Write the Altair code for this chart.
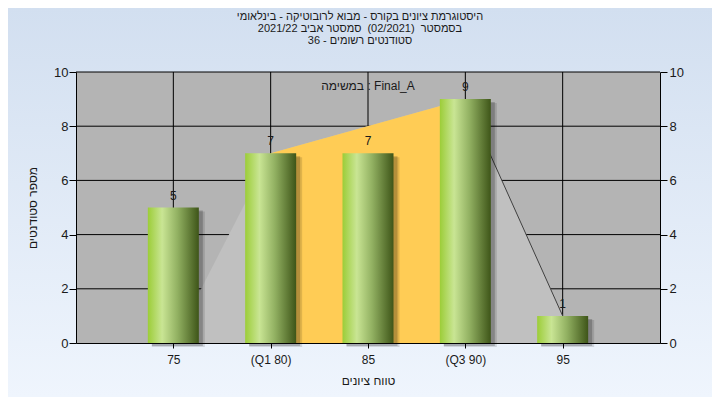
import altair as alt
import pandas as pd

# ---- data ----
grades = [75, 80, 85, 90, 95]
counts = [5, 7, 7, 9, 1]
tick_labels = ["75", "(Q1 80)", "85", "(Q3 90)", "95"]
curve_x = [75, 80, 90, 95]
curve_y = [0, 7, 9, 1]
q1_grade, q3_grade = 80, 90
y_ticks = [0, 2, 4, 6, 8, 10]
grid_y = [2, 4, 6, 8, 10]
title_lines = [
    "היסטוגרמת ציונים בקורס - מבוא לרובוטיקה - בינלאומי",
    "בסמסטר \u00a0(02/2021) \u00a0סמסטר אביב 2021/22",
    "סטודנטים רשומים - 36",
]
task_label = "במשימה : Final_A"
x_title = "טווח ציונים"
y_title = "מספר סטודנטים"

W, H = 584, 271
PADL, PADT, PADR, PADB = 68, 64, 52, 54
FONT = "Liberation Sans"
TXT = "#1a1a1a"

bars_df = pd.DataFrame({"grade": grades, "count": counts})
curve_df = pd.DataFrame({"grade": curve_x, "count": curve_y})
iqr_df = curve_df[(curve_df.grade >= q1_grade) & (curve_df.grade <= q3_grade)]
tail_df = curve_df[curve_df.grade >= q3_grade]
gridx_df = pd.DataFrame({"grade": grades})
gridy_df = pd.DataFrame({"count": grid_y})

xs = alt.Scale(domain=[70, 100], nice=False, zero=False, padding=0)
ys = alt.Scale(domain=[0, 10], nice=False, padding=0)

label_expr = ""
for v, l in zip(grades, tick_labels):
    label_expr += f"datum.value == {v} ? '{l}' : "
label_expr += "''"

x_axis = alt.Axis(values=grades, labelExpr=label_expr, grid=False, tickSize=5,
                  labelPadding=6, domainColor="black", tickColor="black",
                  labelFont=FONT, labelFontSize=12, labelColor=TXT,
                  title=x_title, titleFont=FONT, titleFontSize=12, titleFontWeight="normal",
                  titleColor=TXT, titleX=W / 2, titleY=37, titleBaseline="middle",
                  zindex=1)
y_axis_left = alt.Axis(values=y_ticks, grid=False, tickSize=7, labelPadding=1,
                       domainColor="black", tickColor="black",
                       labelFont=FONT, labelFontSize=13, labelColor=TXT,
                       title=y_title, titleFont=FONT, titleFontSize=12, titleFontWeight="normal",
                       titleColor=TXT, titleX=-44, titleY=H / 2, titleBaseline="middle",
                       titleAlign="center", zindex=1)
y_axis_right = alt.Axis(orient="right", values=y_ticks, grid=False, tickSize=7, labelPadding=2,
                        domainColor="black", tickColor="black",
                        labelFont=FONT, labelFontSize=13, labelColor=TXT, title=None, zindex=1)

bg = alt.Chart(pd.DataFrame({"a": [0]})).mark_rect(
    color=alt.LinearGradient(gradient="linear", x1=0, x2=0, y1=0, y2=1,
                             stops=[alt.GradientStop(color="#d2dff0", offset=0),
                                    alt.GradientStop(color="#eff5fd", offset=1)])
).encode(x=alt.value(-PADL), x2=alt.value(W + PADR), y=alt.value(-PADT), y2=alt.value(H + PADB))

title_layers = []
for i, line in enumerate(title_lines):
    title_layers.append(
        alt.Chart(pd.DataFrame({"line": [line]})).mark_text(
            font=FONT, fontSize=11, color=TXT, baseline="middle", align="center"
        ).encode(x=alt.value(W / 2 - 8), y=alt.value(-55 + 12 * i), text="line:N")
    )

plot_bg = alt.Chart(pd.DataFrame({"a": [0]})).mark_rect(color="#b4b4b4").encode(
    x=alt.value(0), x2=alt.value(W), y=alt.value(0), y2=alt.value(H))

grid_v = alt.Chart(gridx_df).mark_rule(color="black", strokeWidth=1).encode(
    x=alt.X("grade:Q", scale=xs, axis=None))
grid_h = alt.Chart(gridy_df).mark_rule(color="black", strokeWidth=1).encode(
    y=alt.Y("count:Q", scale=ys, axis=y_axis_right))

area_all = alt.Chart(curve_df).mark_area(color="#c0c0c0", opacity=1).encode(
    x=alt.X("grade:Q", scale=xs, axis=None), y=alt.Y("count:Q", scale=ys, axis=None))
area_iqr = alt.Chart(iqr_df).mark_area(color="#ffcc55", opacity=1).encode(
    x=alt.X("grade:Q", scale=xs, axis=None), y=alt.Y("count:Q", scale=ys, axis=None))
tail_line = alt.Chart(tail_df).mark_line(color="#404040", strokeWidth=1).encode(
    x=alt.X("grade:Q", scale=xs, axis=None), y=alt.Y("count:Q", scale=ys, axis=None))

shadow1 = alt.Chart(bars_df).mark_bar(size=53, color="#000000", opacity=0.12,
                                      xOffset=5, yOffset=4).encode(
    x=alt.X("grade:Q", scale=xs, axis=None), y=alt.Y("count:Q", scale=ys, axis=None))
shadow2 = alt.Chart(bars_df).mark_bar(size=51, color="#000000", opacity=0.2,
                                      xOffset=4, yOffset=3).encode(
    x=alt.X("grade:Q", scale=xs, axis=None), y=alt.Y("count:Q", scale=ys, axis=None))

bars = alt.Chart(bars_df).mark_bar(
    size=51,
    color=alt.LinearGradient(gradient="linear", x1=0, x2=1, y1=0, y2=0,
                             stops=[alt.GradientStop(color="#9ccd38", offset=0),
                                    alt.GradientStop(color="#c9e594", offset=0.28),
                                    alt.GradientStop(color="#92b162", offset=0.58),
                                    alt.GradientStop(color="#3e5518", offset=1)])
).encode(x=alt.X("grade:Q", scale=xs, axis=x_axis),
         y=alt.Y("count:Q", scale=ys, axis=y_axis_left))

labels = alt.Chart(bars_df).mark_text(font=FONT, fontSize=12, color=TXT, baseline="bottom",
                                      dy=-5).encode(
    x=alt.X("grade:Q", scale=xs, axis=None), y=alt.Y("count:Q", scale=ys, axis=None),
    text="count:Q")

task = alt.Chart(pd.DataFrame({"t": [task_label]})).mark_text(
    font=FONT, fontSize=12, color=TXT, baseline="middle", align="center").encode(
    x=alt.value(292), y=alt.value(14), text="t:N")

chart = alt.layer(
    bg, *title_layers, plot_bg, grid_v, grid_h, area_all, area_iqr, tail_line,
    shadow1, shadow2, bars, labels, task
).resolve_axis(y="independent", x="independent").resolve_scale(y="independent").properties(
    width=W, height=H,
    autosize=alt.AutoSizeParams(type="none"),
    padding={"left": PADL, "top": PADT, "right": PADR, "bottom": PADB},
    background="#d2dff0",
).configure_view(stroke=None)

chart.save("out.html", embed_options={"renderer": "svg", "actions": False})
